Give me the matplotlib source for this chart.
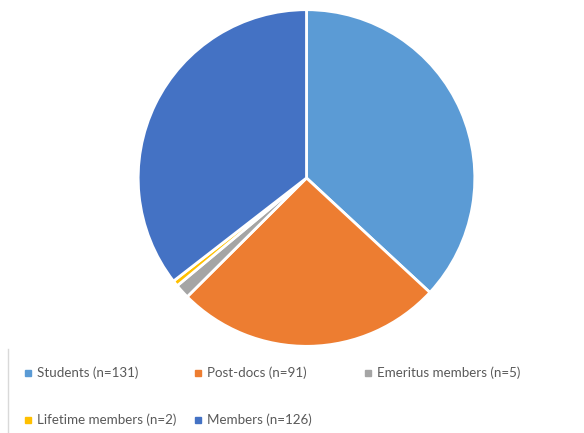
import matplotlib
matplotlib.use("Agg")
import matplotlib.pyplot as plt
from matplotlib.patches import Rectangle
from matplotlib.lines import Line2D

labels = ["Students (n=131)", "Post-docs (n=91)", "Emeritus members (n=5)",
          "Lifetime members (n=2)", "Members (n=126)"]
values = [131, 91, 5, 2, 126]
colors = ["#5B9BD5", "#ED7D31", "#A5A5A5", "#FFC000", "#4472C4"]

W, H = 584, 433
fig = plt.figure(figsize=(W/100, H/100), dpi=100)
plt.rcParams['font.family'] = ['Lato', 'DejaVu Sans']

cx, cy, r = 306.5, 178, 170
ax = fig.add_axes([(cx - r)/W, (H - cy - r)/H, 2*r/W, 2*r/H])
ax.pie(values, colors=colors, startangle=90, counterclock=False, radius=1,
       wedgeprops=dict(edgecolor="white", linewidth=2))
ax.set_xlim(-1.01, 1.01)
ax.set_ylim(-1.01, 1.01)
ax.set_aspect("equal")
ax.axis("off")

# left vertical rule of the legend area
fig.add_artist(Line2D([8/W, 8/W], [0, 1 - 349/H], color="#D9D9D9", linewidth=1,
                      transform=fig.transFigure))

pos = [(28, 373), (198, 373), (368, 373), (28, 420), (198, 420)]
for (x, y), lab, col in zip(pos, labels, colors):
    fig.add_artist(Rectangle(((x - 3)/W, 1 - (y + 3)/H), 6/W, 6/H,
                             color=col, transform=fig.transFigure))
    fig.text((x + 9)/W, 1 - y/H, lab, fontsize=9.6, color="#595959",
             va="center", ha="left")

fig.savefig("out.png", dpi=100)
